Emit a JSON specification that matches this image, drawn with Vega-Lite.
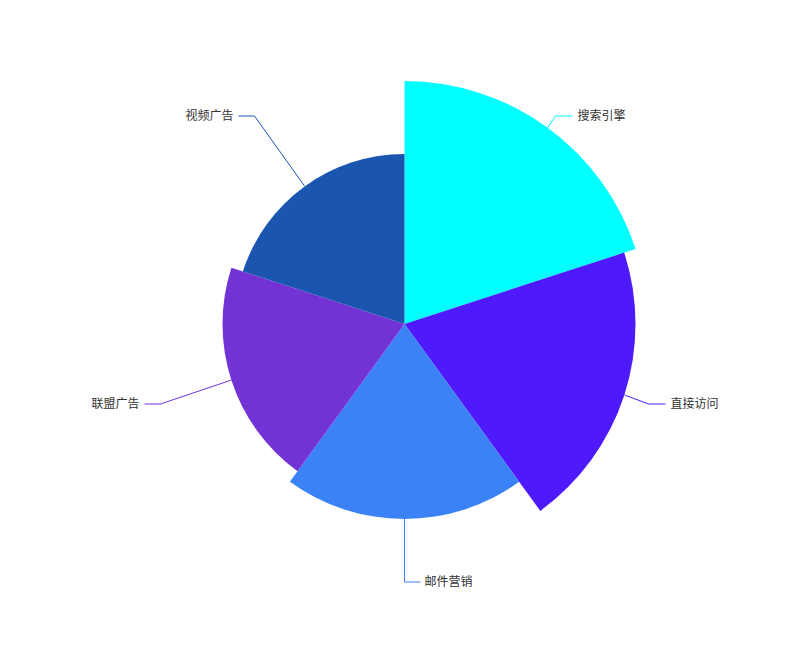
{
  "$schema": "https://vega.github.io/schema/vega-lite/v6.json",
  "width": 809,
  "height": 648,
  "autosize": {"type": "fit", "contains": "padding"},
  "padding": 0,
  "background": "#ffffff",
  "config": {"view": {"stroke": null}, "font": "Noto Sans CJK SC"},
  "datasets": {
    "slices": [
      {"name": "搜索引擎", "order": 1, "share": 1, "value": 243},
      {"name": "直接访问", "order": 2, "share": 1, "value": 231},
      {"name": "邮件营销", "order": 3, "share": 1, "value": 195},
      {"name": "联盟广告", "order": 4, "share": 1, "value": 182},
      {"name": "视频广告", "order": 5, "share": 1, "value": 170}
    ],
    "lines": [
      {"name": "搜索引擎", "step": 1, "x": 143, "y": 196},
      {"name": "搜索引擎", "step": 2, "x": 151, "y": 208},
      {"name": "搜索引擎", "step": 3, "x": 168, "y": 208},
      {"name": "直接访问", "step": 1, "x": 220, "y": -71},
      {"name": "直接访问", "step": 2, "x": 244, "y": -80},
      {"name": "直接访问", "step": 3, "x": 261, "y": -80},
      {"name": "邮件营销", "step": 1, "x": 0, "y": -195},
      {"name": "邮件营销", "step": 2, "x": 0, "y": -258},
      {"name": "邮件营销", "step": 3, "x": 16, "y": -258},
      {"name": "联盟广告", "step": 1, "x": -173, "y": -56},
      {"name": "联盟广告", "step": 2, "x": -244, "y": -80},
      {"name": "联盟广告", "step": 3, "x": -260, "y": -80},
      {"name": "视频广告", "step": 1, "x": -100, "y": 138},
      {"name": "视频广告", "step": 2, "x": -150, "y": 208},
      {"name": "视频广告", "step": 3, "x": -166, "y": 208}
    ],
    "labels": [
      {"name": "搜索引擎", "side": "right", "x": 173, "y": 208},
      {"name": "直接访问", "side": "right", "x": 266, "y": -80},
      {"name": "邮件营销", "side": "right", "x": 20, "y": -258},
      {"name": "联盟广告", "side": "left", "x": -265, "y": -80},
      {"name": "视频广告", "side": "left", "x": -171, "y": 208}
    ]
  },
  "layer": [
    {
      "data": {"name": "slices"},
      "transform": [
        {"stack": "share", "groupby": [], "sort": [{"field": "order", "order": "ascending"}], "as": ["t0", "t1"]}
      ],
      "mark": {"type": "arc"},
      "encoding": {
        "theta": {"field": "t0", "type": "quantitative", "scale": {"domain": [0, 5]}},
        "theta2": {"field": "t1"},
        "radius": {"field": "value", "type": "quantitative", "scale": {"type": "linear", "domain": [0, 324], "range": [0, 324]}},
        "color": {
          "field": "name", "type": "nominal", "legend": null,
          "scale": {
            "domain": ["搜索引擎", "直接访问", "邮件营销", "联盟广告", "视频广告"],
            "range": ["#00ffff", "#4f1afb", "#3b82f6", "#7332d4", "#1a56b0"]
          }
        }
      }
    },
    {
      "data": {"name": "lines"},
      "mark": {"type": "line", "strokeWidth": 1},
      "encoding": {
        "x": {"field": "x", "type": "quantitative", "axis": null, "scale": {"domain": [-404.5, 404.5], "nice": false, "zero": false}},
        "y": {"field": "y", "type": "quantitative", "axis": null, "scale": {"domain": [-324, 324], "nice": false, "zero": false}},
        "detail": {"field": "name"},
        "order": {"field": "step", "type": "quantitative"},
        "color": {"field": "name", "type": "nominal", "legend": null}
      }
    },
    {
      "data": {"name": "labels"},
      "transform": [{"filter": "datum.side === 'right'"}],
      "mark": {"type": "text", "align": "left", "baseline": "middle", "fontSize": 12, "color": "#333333"},
      "encoding": {
        "x": {"field": "x", "type": "quantitative"},
        "y": {"field": "y", "type": "quantitative"},
        "text": {"field": "name"}
      }
    },
    {
      "data": {"name": "labels"},
      "transform": [{"filter": "datum.side === 'left'"}],
      "mark": {"type": "text", "align": "right", "baseline": "middle", "fontSize": 12, "color": "#333333"},
      "encoding": {
        "x": {"field": "x", "type": "quantitative"},
        "y": {"field": "y", "type": "quantitative"},
        "text": {"field": "name"}
      }
    }
  ]
}
